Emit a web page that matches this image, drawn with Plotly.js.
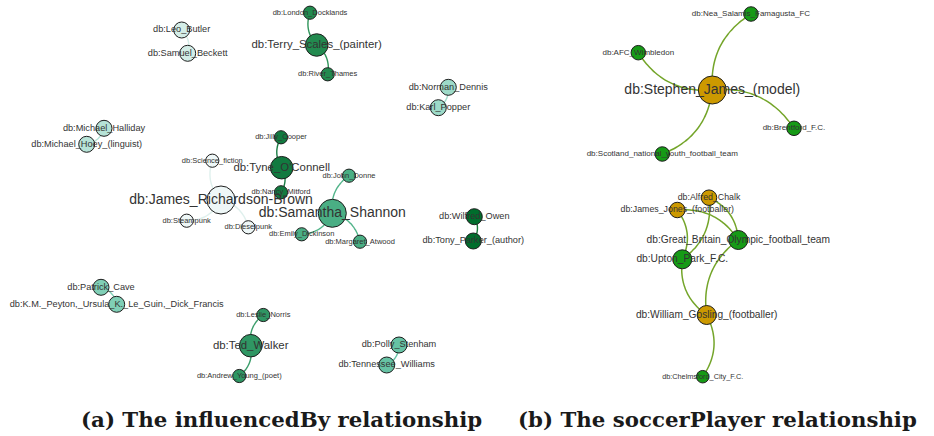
<!DOCTYPE html>
<html>
<head>
<meta charset="utf-8">
<script src="https://cdn.plot.ly/plotly-3.0.1.min.js"></script>
<style>
  html, body { margin: 0; padding: 0; background: #ffffff; }
  #chart { width: 934px; height: 436px; }
</style>
</head>
<body>
<div id="chart"></div>
<script>
// ---- Network data: node names, layout coordinates, community and importance rank ----
const nodeNames = [
  "db:Leo_Butler", "db:Samuel_Beckett",
  "db:London_Docklands", "db:Terry_Scales_(painter)", "db:River_Thames",
  "db:Norman_Dennis", "db:Karl_Popper",
  "db:Michael_Halliday", "db:Michael_Hoey_(linguist)",
  "db:Jilly_Cooper", "db:Tyne_O'Connell", "db:Nancy_Mitford",
  "db:Science_fiction", "db:James_Richardson-Brown", "db:Steampunk", "db:Dieselpunk",
  "db:Samantha_Shannon", "db:John_Donne", "db:Emily_Dickinson", "db:Margaret_Atwood",
  "db:Wilfred_Owen", "db:Tony_Parker_(author)",
  "db:Patrick_Cave", "db:K.M._Peyton,_Ursula_K._Le_Guin,_Dick_Francis",
  "db:Leslie_Norris", "db:Ted_Walker", "db:Andrew_Young_(poet)",
  "db:Polly_Stenham", "db:Tennessee_Williams",
  "db:Nea_Salamis_Famagusta_FC", "db:AFC_Wimbledon", "db:Stephen_James_(model)",
  "db:Brentford_F.C.", "db:Scotland_national_youth_football_team",
  "db:Alfred_Chalk", "db:James_Jones_(footballer)", "db:Great_Britain_Olympic_football_team",
  "db:Upton_Park_F.C.", "db:William_Gosling_(footballer)", "db:Chelmsford_City_F.C."
];
const nodeX = [
  181.7, 187.7,
  310.0, 316.7, 327.7,
  448.3, 438.3,
  104.0, 86.7,
  281.0, 281.7, 281.0,
  212.3, 221.0, 186.7, 248.3,
  332.3, 349.0, 301.7, 360.0,
  474.3, 473.3,
  101.0, 116.7,
  263.3, 250.7, 239.3,
  399.0, 386.7,
  751.0, 638.3, 712.3,
  794.0, 662.3,
  709.0, 677.3, 738.3,
  682.3, 706.7, 702.7
];
const nodeY = [
  30.0, 53.3,
  12.7, 45.0, 74.3,
  87.3, 107.7,
  128.3, 144.3,
  137.3, 167.7, 192.3,
  160.7, 200.0, 220.7, 227.3,
  213.3, 175.7, 234.3, 241.7,
  216.7, 241.0,
  287.3, 304.3,
  315.0, 345.7, 376.0,
  345.0, 365.0,
  14.0, 52.7, 90.0,
  128.3, 154.0,
  197.7, 210.0, 240.0,
  259.3, 315.0, 376.7
];
// community id of each node (11 = player, 12 = club in the soccerPlayer graph)
const nodeGroup = [
  1, 1,
  8, 8, 8,
  3, 3,
  2, 2,
  9, 9, 9,
  0, 0, 0, 0,
  6, 6, 6, 6,
  10, 10,
  4, 4,
  7, 7, 7,
  5, 5,
  12, 12, 11,
  12, 12,
  11, 11, 12,
  12, 11, 12
];
// importance rank of each node (higher = more central)
const nodeRank = [
  4, 4,
  1, 6, 1,
  4, 4,
  4, 4,
  1, 6, 1,
  1, 7, 1, 1,
  7, 1, 1, 1,
  4, 4,
  4, 4,
  1, 6, 1,
  4, 4,
  2, 2, 7,
  2, 2,
  3, 3, 5,
  5, 5, 0
];

// ---- Edges (source -> target) ----
const edgeSource = [
  "db:Leo_Butler",
  "db:Terry_Scales_(painter)", "db:Terry_Scales_(painter)",
  "db:Norman_Dennis",
  "db:Michael_Halliday",
  "db:Tyne_O'Connell", "db:Tyne_O'Connell",
  "db:James_Richardson-Brown", "db:James_Richardson-Brown", "db:James_Richardson-Brown",
  "db:Samantha_Shannon", "db:Samantha_Shannon", "db:Samantha_Shannon",
  "db:Wilfred_Owen",
  "db:Patrick_Cave",
  "db:Ted_Walker", "db:Ted_Walker",
  "db:Polly_Stenham",
  "db:Stephen_James_(model)", "db:Stephen_James_(model)", "db:Stephen_James_(model)", "db:Stephen_James_(model)",
  "db:James_Jones_(footballer)", "db:James_Jones_(footballer)",
  "db:Alfred_Chalk", "db:Alfred_Chalk",
  "db:William_Gosling_(footballer)", "db:William_Gosling_(footballer)", "db:William_Gosling_(footballer)"
];
const edgeTarget = [
  "db:Samuel_Beckett",
  "db:London_Docklands", "db:River_Thames",
  "db:Karl_Popper",
  "db:Michael_Hoey_(linguist)",
  "db:Jilly_Cooper", "db:Nancy_Mitford",
  "db:Science_fiction", "db:Steampunk", "db:Dieselpunk",
  "db:John_Donne", "db:Emily_Dickinson", "db:Margaret_Atwood",
  "db:Tony_Parker_(author)",
  "db:K.M._Peyton,_Ursula_K._Le_Guin,_Dick_Francis",
  "db:Leslie_Norris", "db:Andrew_Young_(poet)",
  "db:Tennessee_Williams",
  "db:Nea_Salamis_Famagusta_FC", "db:AFC_Wimbledon", "db:Brentford_F.C.", "db:Scotland_national_youth_football_team",
  "db:Great_Britain_Olympic_football_team", "db:Upton_Park_F.C.",
  "db:Upton_Park_F.C.", "db:Great_Britain_Olympic_football_team",
  "db:Upton_Park_F.C.", "db:Great_Britain_Olympic_football_team", "db:Chelmsford_City_F.C."
];

const captions = ["(a) The influencedBy relationship", "(b) The soccerPlayer relationship"];

// ---- Styling ----
const groupFill = {
  0: "#eef7f7", 1: "#d3ede7", 2: "#b6e3d7", 3: "#9ddac8", 4: "#80cfb6",
  5: "#66c2a4", 6: "#4aae84", 7: "#2f9663", 8: "#228a4f", 9: "#127a40",
  10: "#006d2c", 11: "#cc9900", 12: "#169a16"
};
const groupEdge = {
  0: "#dff0ed", 1: "#d6eee8", 2: "#b6e3d7", 3: "#a2dccb", 4: "#80cfb6",
  5: "#66c2a4", 6: "#52b48a", 7: "#3a9d6a", 8: "#2f955a", 9: "#1b7d45",
  10: "#1a7a3a", 11: "#74a52a", 12: "#74a52a"
};
// rank -> [marker diameter, label font size]
const rankStyle = {
  0: [12.5, 7.3], 1: [13.2, 7.5], 2: [14.5, 8.0], 3: [15.5, 8.8],
  4: [16.0, 9.2], 5: [19.0, 10.2], 6: [22.5, 11.4], 7: [28.0, 14.0]
};
const curvature = 0.3;
const labelFont = "Liberation Sans, Arial, Helvetica, sans-serif";

const idx = {};
nodeNames.forEach((n, i) => { idx[n] = i; });

const traces = [];

// curved edges: quadratic Bezier bending to the same side of every source->target direction
edgeSource.forEach((s, e) => {
  const a = idx[s], b = idx[edgeTarget[e]];
  const x0 = nodeX[a], y0 = nodeY[a], x1 = nodeX[b], y1 = nodeY[b];
  const dx = x1 - x0, dy = y1 - y0;
  const cx = (x0 + x1) / 2 + curvature * dy;
  const cy = (y0 + y1) / 2 - curvature * dx;
  const xs = [], ys = [];
  for (let k = 0; k <= 24; k++) {
    const t = k / 24, u = 1 - t;
    xs.push(u * u * x0 + 2 * u * t * cx + t * t * x1);
    ys.push(u * u * y0 + 2 * u * t * cy + t * t * y1);
  }
  const g = nodeGroup[a];
  traces.push({
    type: "scatter", mode: "lines", x: xs, y: ys,
    line: { color: groupEdge[g], width: g >= 11 ? 1.5 : 1.4, shape: "spline" },
    hoverinfo: "skip"
  });
});

// nodes with centred labels
traces.push({
  type: "scatter",
  mode: "markers+text",
  x: nodeX,
  y: nodeY,
  text: nodeNames,
  textposition: "middle center",
  textfont: {
    family: labelFont,
    size: nodeRank.map(r => rankStyle[r][1]),
    color: "#333333"
  },
  marker: {
    size: nodeRank.map(r => rankStyle[r][0]),
    color: nodeGroup.map(g => groupFill[g]),
    opacity: 1,
    line: { color: "#1e1e1e", width: 1 }
  },
  hoverinfo: "text"
});

const layout = {
  width: 934,
  height: 436,
  margin: { l: 0, r: 0, t: 0, b: 0 },
  paper_bgcolor: "#ffffff",
  plot_bgcolor: "#ffffff",
  showlegend: false,
  xaxis: { range: [0, 934], visible: false, fixedrange: true },
  yaxis: { range: [436, 0], visible: false, fixedrange: true },
  annotations: [
    { x: 281, y: 419, text: "<b>" + captions[0] + "</b>" },
    { x: 717, y: 419, text: "<b>" + captions[1] + "</b>" }
  ].map(a => Object.assign(a, {
    xref: "x", yref: "y", showarrow: false,
    xanchor: "center", yanchor: "middle",
    font: { family: "DejaVu Serif, serif", size: 21.3, color: "#1a1a1a" }
  }))
};

Plotly.newPlot("chart", traces, layout, { displayModeBar: false, staticPlot: true });
</script>
</body>
</html>
